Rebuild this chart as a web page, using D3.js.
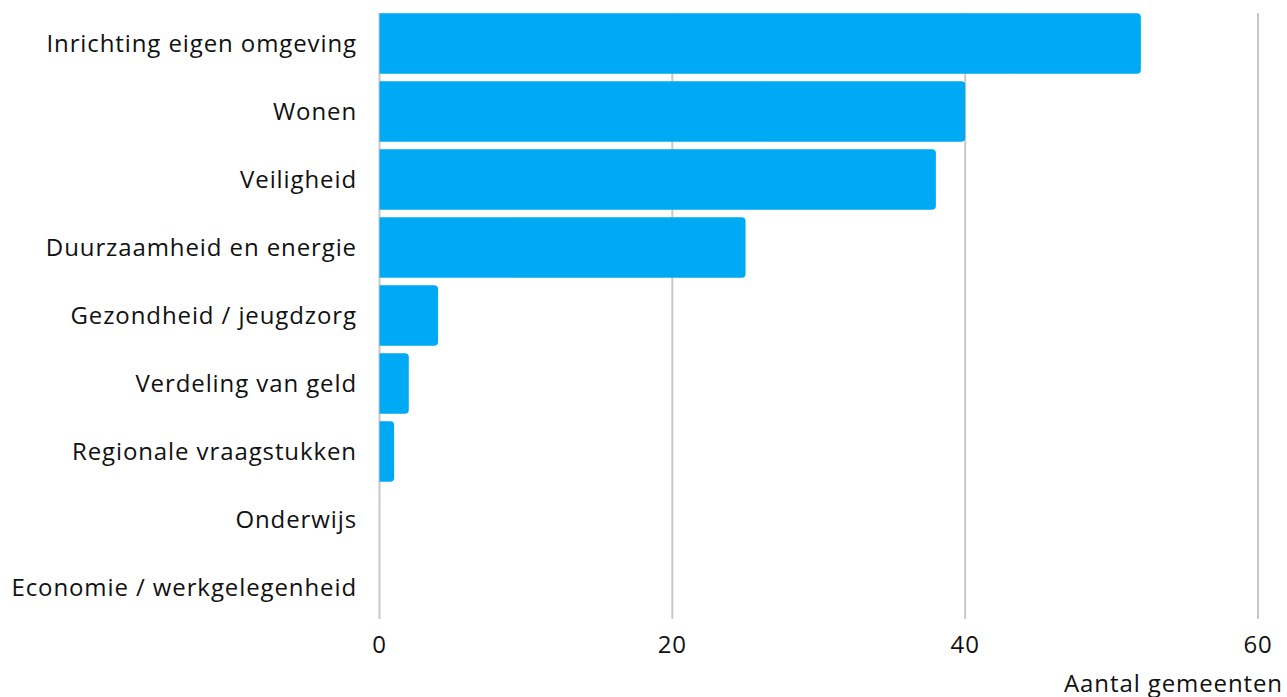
<!DOCTYPE html>
<html>
<head>
<meta charset="utf-8">
<script src="https://cdn.jsdelivr.net/npm/d3@7"></script>
<style>
  body { margin: 0; background: #fff; }
  text { font-family: "Open Sans", Lato, sans-serif; fill: #111; letter-spacing: 0.9px; }
</style>
</head>
<body>
<svg id="chart" width="1287" height="697"></svg>
<script>
const categories = ["Inrichting eigen omgeving", "Wonen", "Veiligheid", "Duurzaamheid en energie",
                    "Gezondheid / jeugdzorg", "Verdeling van geld", "Regionale vraagstukken",
                    "Onderwijs", "Economie / werkgelegenheid"];
const values = [52, 40, 38, 25, 4, 2, 1, 0, 0];
const xTicks = [0, 20, 40, 60];
const xTitle = "Aantal gemeenten";

const svg = d3.select("#chart");
const x = d3.scaleLinear().domain([0, 60]).range([379.5, 1258]);
const y = d3.scaleBand().domain(categories).range([9.5, 621.5]).paddingInner(0.11).paddingOuter(0.055);

// grid lines
svg.append("g").selectAll("line")
   .data(xTicks)
   .enter()
   .append("line")
   .attr("x1", d => x(d)).attr("x2", d => x(d))
   .attr("y1", 13).attr("y2", 619)
   .attr("stroke", "#c8c8c8")
   .attr("stroke-width", 2);

// bars, rounded on the right only
function barPath(x0, y0, w, h, r) {
    r = Math.min(r, w / 2, h / 2);
    const p = d3.path();
    p.moveTo(x0, y0);
    p.lineTo(x0 + w - r, y0);
    p.arcTo(x0 + w, y0, x0 + w, y0 + r, r);
    p.lineTo(x0 + w, y0 + h - r);
    p.arcTo(x0 + w, y0 + h, x0 + w - r, y0 + h, r);
    p.lineTo(x0, y0 + h);
    p.closePath();
    return p.toString();
}

const data = categories.map((c, i) => ({key: c, value: values[i]}));
svg.append("g").selectAll("path")
   .data(data.filter(d => d.value > 0))
   .enter()
   .append("path")
   .attr("d", d => barPath(x(0), y(d.key), x(d.value) - x(0), y.bandwidth(), 4))
   .attr("fill", "#00a9f4");

// category labels
svg.append("g").selectAll("text")
   .data(categories)
   .enter()
   .append("text")
   .attr("x", 357)
   .attr("y", d => y(d) + y.bandwidth() / 2)
   .attr("dy", "0.35em")
   .attr("text-anchor", "end")
   .attr("font-size", 24)
   .text(d => d);

// tick labels
svg.append("g").selectAll("text")
   .data(xTicks)
   .enter()
   .append("text")
   .attr("x", d => x(d))
   .attr("y", 645)
   .attr("dy", "0.35em")
   .attr("text-anchor", "middle")
   .attr("font-size", 24)
   .text(d => d);

svg.append("text")
   .attr("x", 1283)
   .attr("y", 684)
   .attr("dy", "0.35em")
   .attr("text-anchor", "end")
   .attr("font-size", 24)
   .text(xTitle);
</script>
</body>
</html>
